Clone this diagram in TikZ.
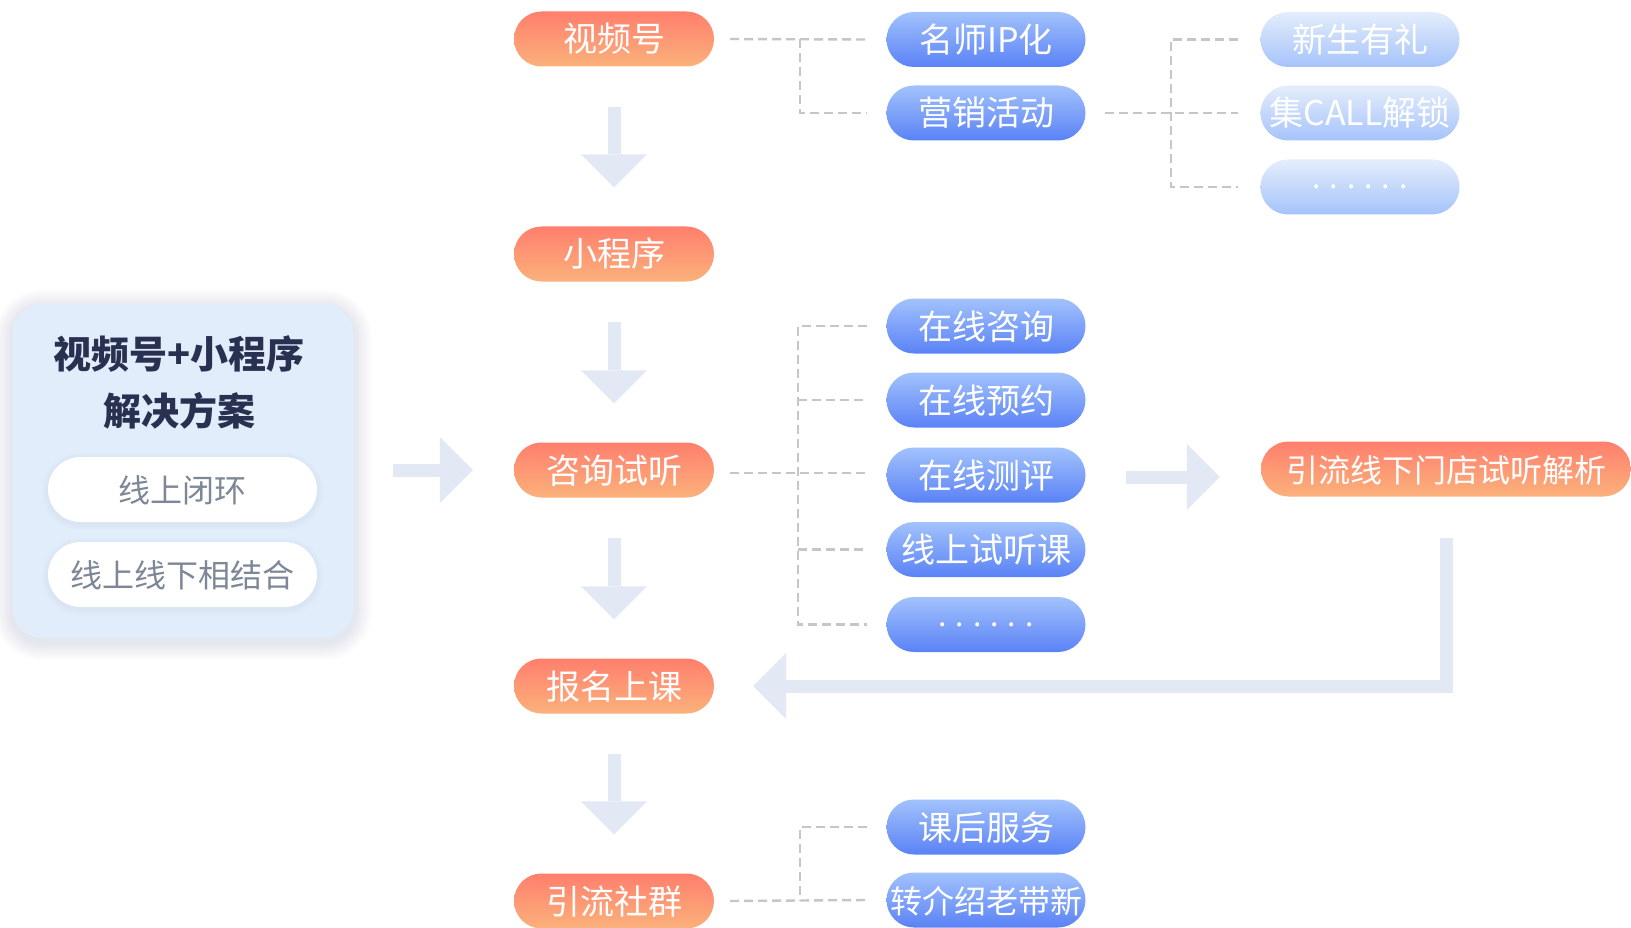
\documentclass[tikz,border=0pt]{standalone}
\usepackage{fontspec}
\newfontfamily\cjk{Noto Sans CJK SC}
\usetikzlibrary{calc,arrows.meta,backgrounds}
\pgfdeclarelayer{mid}
\pgfsetlayers{background,mid,main}
\definecolor{orTop}{HTML}{FF7F6D}
\definecolor{orBot}{HTML}{FBB17B}
\definecolor{blTop}{HTML}{A2C2FC}
\definecolor{blBot}{HTML}{5A82F6}
\definecolor{lbTop}{HTML}{E4EDFB}
\definecolor{lbBot}{HTML}{A5C3FB}
\definecolor{arrc}{HTML}{E2E9F5}
\definecolor{dashc}{HTML}{C6C6C6}
\definecolor{panelc}{HTML}{E2EDFC}
\definecolor{navy}{HTML}{2A3150}
\definecolor{pilltxt}{HTML}{7D8797}
\definecolor{shadc}{HTML}{8A98B0}
\newcommand\sixdots{\raisebox{11pt}{.\hspace{9pt}.\hspace{9pt}.\hspace{9pt}.\hspace{9pt}.\hspace{9pt}.}}
\begin{document}
\begin{tikzpicture}[x=1pt,y=-1pt,
  pillbase/.style={rounded corners=27.5pt, minimum width=199pt, minimum height=55pt,
    inner sep=0pt, text=white, text height=30pt, text depth=4pt,
    font={\cjk\fontsize{34pt}{34pt}\selectfont}},
  orangepill/.style={pillbase, minimum width=200pt, top color=orTop, bottom color=orBot},
  bluepill/.style={pillbase, top color=blTop, bottom color=blBot},
  lbluepill/.style={pillbase, top color=lbTop, bottom color=lbBot},
  dotfont/.style={font={\cjk\fontsize{30pt}{30pt}\selectfont}},
  dline/.style={draw=dashc, line width=2.4pt, dash pattern=on 9pt off 5pt},
  bigarrow/.style={draw=arrc, line width=13pt, line join=miter,
    -{Triangle[width=66pt,length=33pt,line width=0pt]}},
  panelbox/.style={fill=panelc, rounded corners=30pt, minimum width=341pt, minimum height=334pt},
  whitepill/.style={fill=white, rounded corners=32.5pt, minimum width=269pt, minimum height=65pt,
    inner sep=0pt, text=pilltxt, text height=30pt, text depth=4pt,
    font={\cjk\fontsize{32pt}{32pt}\selectfont}},
  titletxt/.style={text=navy, inner sep=0pt, font={\cjk\bfseries\fontsize{38pt}{40pt}\selectfont}},
  softshadow/.style={fill=shadc, fill opacity=0.022, draw=none}
]
\path[use as bounding box] (0,0) rectangle (1631,928);

% left panel (with soft shadow) on the background layer
\begin{pgfonlayer}{background}
  \fill[white] (0,0) rectangle (1631,928);
  \foreach \k in {1,...,9} {
    \fill[softshadow, rounded corners={30pt+2pt*\k}]
      (12.5-2*\k, 304-2*\k+4) rectangle (353.5+2*\k, 638+2*\k+4);
  }
  \node[panelbox] (panel) at (183,471) {};
\end{pgfonlayer}
\node[titletxt] (t1) at (179,354) {视频号+小程序};
\node[titletxt] (t2) at (179,411) {解决方案};
\node[whitepill] (p1) at (182.5,489.5) {线上闭环};
\node[whitepill] (p2) at (182.5,574.5) {线上线下相结合};
\begin{pgfonlayer}{mid}
  \foreach \k in {1,...,4} {
    \fill[softshadow, fill opacity=0.02, rounded corners={32.5pt+1.5pt*\k}]
      ($(p1.north west)+(-1.5*\k,-1.5*\k+2)$) rectangle ($(p1.south east)+(1.5*\k,1.5*\k+2)$);
    \fill[softshadow, fill opacity=0.02, rounded corners={32.5pt+1.5pt*\k}]
      ($(p2.north west)+(-1.5*\k,-1.5*\k+2)$) rectangle ($(p2.south east)+(1.5*\k,1.5*\k+2)$);
  }
\end{pgfonlayer}

% main column
\node[orangepill] (sph) at (614,39) {视频号};
\node[orangepill] (xcx) at (614,254) {小程序};
\node[orangepill] (zx)  at (614,470) {咨询试听};
\node[orangepill] (bm)  at (614,686) {报名上课};
\node[orangepill] (yq)  at (614,901) {引流社群};

% blue column
\node[bluepill] (mip)  at (986,39.5) {名师IP化};
\node[bluepill] (yx)   at (986,113) {营销活动};
\node[bluepill] (zxun) at (986,326) {在线咨询};
\node[bluepill] (yy)   at (986,400) {在线预约};
\node[bluepill] (cp)   at (986,475) {在线测评};
\node[bluepill] (stk)  at (986,549.5) {线上试听课};
\node[bluepill, dotfont] (bd) at (986,624.5) {\sixdots};
\node[bluepill] (kh)   at (986,827) {课后服务};
\node[bluepill, font={\cjk\fontsize{32pt}{32pt}\selectfont}] (zj) at (986,900) {转介绍老带新};

% light blue column
\node[lbluepill] (xs)   at (1360,39.5) {新生有礼};
\node[lbluepill] (call) at (1360,113) {集CALL解锁};
\node[lbluepill, dotfont] (ld) at (1360,187) {\sixdots};

% offline node
\node[orangepill, minimum width=370pt, font={\cjk\fontsize{32pt}{32pt}\selectfont}] (yl) at (1446,469) {引流线下门店试听解析};

% big arrows
\draw[bigarrow] ($(sph.south)+(0,40)$) -- ($(xcx.north)+(0,-39)$);
\draw[bigarrow] ($(xcx.south)+(0,40)$) -- ($(zx.north)+(0,-39)$);
\draw[bigarrow] ($(zx.south)+(0,40)$) -- ($(bm.north)+(0,-39)$);
\draw[bigarrow] ($(bm.south)+(0,40)$) -- ($(yq.north)+(0,-39)$);
\draw[bigarrow] ($(panel.east |- zx.west)+(39,0)$) -- ($(zx.west)+(-41,0)$);
\draw[bigarrow] ($(cp.east)+(40,2)$) -- ($(yl.west |- cp.west)+(-41,2)$);
\draw[bigarrow] ($(yl.south)+(0,41)$) |- ($(bm.east)+(39,0)$);

% dashed connectors
\coordinate (j1) at (800,39);
\coordinate (j2) at (1171,113);
\coordinate (j3) at (798,475);
\coordinate (j4) at (800,901);
\draw[dline] ($(sph.east)+(16,0)$) -- ($(mip.west)+(-19,0)$);
\draw[dline] (j1) |- ($(yx.west)+(-19,0)$);
\draw[dline] ($(yx.east)+(19,0)$) -- ($(call.west)+(-22,0)$);
\draw[dline] ($(xs.west)+(-22,0)$) -| (j2) |- ($(ld.west)+(-22,0)$);
\draw[dline] ($(zxun.west)+(-19,0)$) -| (j3) |- ($(bd.west)+(-19,0)$);
\draw[dline] ($(zx.east |- cp.west)+(16,-2)$) -- ($(cp.west)+(-19,-2)$);
\draw[dline] (j3 |- yy) -- ($(yy.west)+(-19,0)$);
\draw[dline] (j3 |- stk) -- ($(stk.west)+(-19,0)$);
\draw[dline] ($(kh.west)+(-19,0)$) -| (j4);
\draw[dline] ($(yq.east)+(16,0)$) -- ($(zj.west)+(-19,0)$);
\end{tikzpicture}
\end{document}
